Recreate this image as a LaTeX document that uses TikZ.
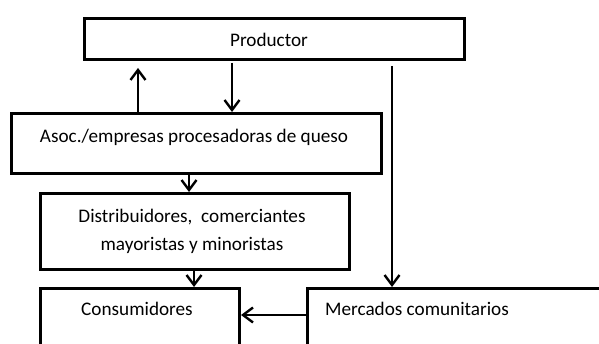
\documentclass[tikz,border=0pt]{standalone}
\usepackage{fontspec}
\setmainfont{Carlito}
\usetikzlibrary{arrows.meta}
\begin{document}
\begin{tikzpicture}[x=1pt,y=-1pt,
  box/.style={draw,line width=3pt,rectangle,inner sep=0pt,anchor=north west},
  txt/.style={inner sep=0pt,font=\fontsize{19.2}{28}\selectfont,align=center},
  arr/.style={line width=2.4pt,-{Straight Barb[length=10pt,width=15pt,line width=2.4pt]}},
  ln/.style={line width=2.4pt}]
\useasboundingbox (0,0) rectangle (599,344);
\clip (0,0) rectangle (599,344);
\node[box,minimum width=380pt,minimum height=41pt] (prod) at (83,17) {};
\node[box,minimum width=370pt,minimum height=60pt] (asoc) at (10,112) {};
\node[box,minimum width=309pt,minimum height=76pt] (dist) at (39,192) {};
\node[box,minimum width=199pt,minimum height=80pt] (cons) at (39,287) {};
\node[box,minimum width=310pt,minimum height=80pt] (merc) at (306,287) {};
\node[txt] (tprod) at (269,40) {Productor};
\node[txt] (tasoc) at (194,137) {Asoc./empresas procesadoras de queso};
\node[txt] (tdist) at (192,231) {Distribuidores,\ \ comerciantes\\mayoristas y minoristas};
\node[txt] (tcons) at (137,309) {Consumidores};
\node[txt] (tmerc) at (417,309) {Mercados comunitarios};
\draw[arr,shorten >=7pt] (asoc.north -| 138,0) -- (prod.south -| 138,0);
\draw[arr,shorten <=2pt] (prod.south -| 232,0) -- (asoc.north -| 232,0);
\draw[arr,shorten <=5pt] (prod.south -| 392,0) -- (merc.north -| 392,0);
\draw[arr] (asoc.south -| 189,0) -- (dist.north -| 189,0);
\draw[arr] (dist.south -| 194,0) -- (cons.north -| 194,0);
\draw[arr] (merc.west |- 0,315) -- (cons.east |- 0,315);
\end{tikzpicture}
\end{document}
